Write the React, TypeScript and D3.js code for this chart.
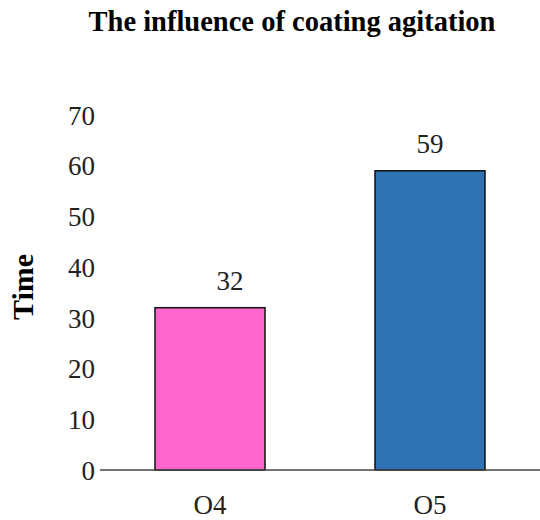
import React from "react";
import * as d3 from "d3";

const categories = ["O4", "O5"];
const values = [32, 59];
const barColors = ["#FF66CC", "#3073B5"];
const yTicks = [0, 10, 20, 30, 40, 50, 60, 70];
const title = "The influence of coating agitation";
const yLabel = "Time";

export default function App() {
  const W = 540, H = 520;
  const left = 100, right = 540, top = 115, bottom = 470;
  const x = d3.scaleBand<string>().domain(categories).range([left, right]).paddingInner(0.5).paddingOuter(0.25);
  const y = d3.scaleLinear().domain([0, 70]).range([bottom, top]);
  const font = "'Liberation Serif', 'Times New Roman', serif";
  const labelShift = [20, 0];
  return (
    <svg width={W} height={H} style={{ position: "absolute", left: 0, top: 0, background: "#fff" }} fontFamily={font}>
      <text x={292} y={31} textAnchor="middle" fontSize={28.5} fontWeight="bold" fill="#000">{title}</text>
      <text transform={`translate(33,${287}) rotate(-90)`} textAnchor="middle" fontSize={30} fontWeight="bold" fill="#000">{yLabel}</text>
      {yTicks.map((t) => (
        <text key={t} x={95} y={y(t)} dy="0.36em" textAnchor="end" fontSize={27} fill="#222">{t}</text>
      ))}
      {categories.map((c, i) => (
        <g key={c}>
          <rect x={x(c)!} y={y(values[i])} width={x.bandwidth()} height={y(0) - y(values[i])} fill={barColors[i]} stroke="#111" strokeWidth={1.5} />
          <text x={x(c)! + x.bandwidth() / 2 + labelShift[i]} y={y(values[i]) - 18} textAnchor="middle" fontSize={27} fill="#222">{values[i]}</text>
          <text x={x(c)! + x.bandwidth() / 2} y={514} textAnchor="middle" fontSize={27} fill="#222">{c}</text>
        </g>
      ))}
      <line x1={left} x2={right} y1={y(0)} y2={y(0)} stroke="#444" strokeWidth={1.5} />
    </svg>
  );
}
